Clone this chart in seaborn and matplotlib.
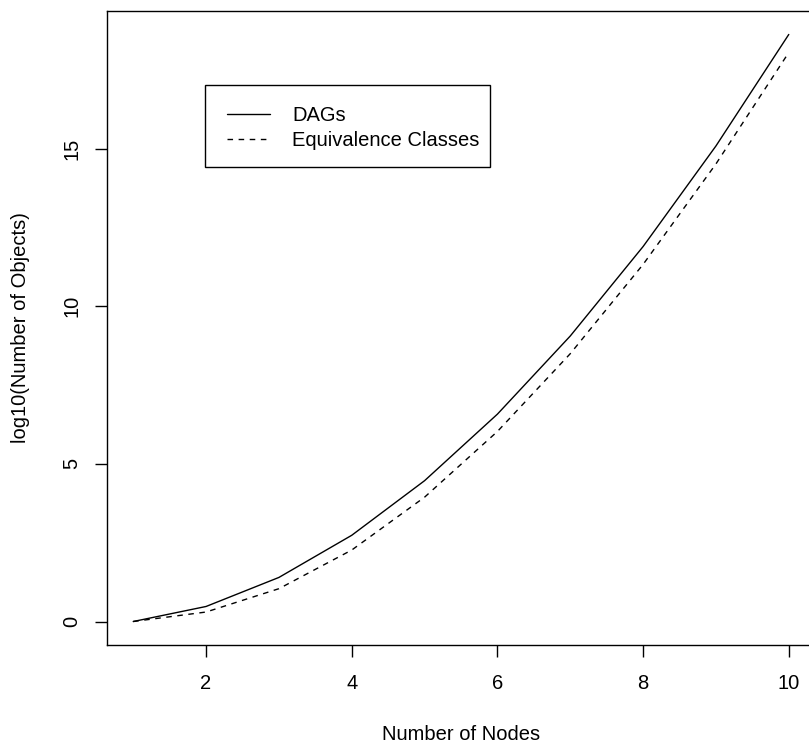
import matplotlib
matplotlib.use("Agg")
import matplotlib.pyplot as plt
import seaborn as sns
import pandas as pd
from matplotlib.lines import Line2D
from matplotlib.patches import Rectangle

nodes = [1, 2, 3, 4, 5, 6, 7, 8, 9, 10]
log_dags = [0.0, 0.477, 1.398, 2.735, 4.467, 6.578, 9.056, 11.894, 15.084, 18.621]
log_equiv = [0.0, 0.301, 1.041, 2.267, 3.944, 6.028, 8.495, 11.327, 14.514, 18.049]
x_ticks = [2, 4, 6, 8, 10]
y_ticks = [0, 5, 10, 15]
series_names = ["DAGs", "Equivalence Classes"]

sns.set_style("white")
plt.rcParams["font.family"] = ["Liberation Sans", "DejaVu Sans"]
plt.rcParams["text.color"] = "black"
plt.rcParams["axes.labelcolor"] = "black"
FS = 14.5

df = pd.DataFrame({
    "nodes": nodes * 2,
    "value": log_dags + log_equiv,
    "series": [series_names[0]] * len(nodes) + [series_names[1]] * len(nodes),
})

fig = plt.figure(figsize=(8.09, 7.42), dpi=100)
ax = fig.add_axes([107 / 809, 97 / 742, 708 / 809, 634 / 742])
sns.lineplot(data=df, x="nodes", y="value", style="series",
             dashes={series_names[0]: "", series_names[1]: (4, 4)},
             color="black", linewidth=1.0, ax=ax, legend=False)

ax.set_xlim(0.64, 10.36)
ax.set_ylim(-0.745, 19.365)
ax.set_xticks(x_ticks)
ax.set_yticks(y_ticks)
ax.set_yticklabels([str(t) for t in y_ticks], rotation=90, va="center")
ax.tick_params(axis="both", which="major", direction="out", length=8.6, width=1,
               color="black", labelsize=FS, labelcolor="black",
               bottom=True, left=True, top=False, right=False)
ax.tick_params(axis="x", pad=12.5)
ax.tick_params(axis="y", pad=10)
for s in ax.spines.values():
    s.set_color("black")
    s.set_linewidth(1)
ax.spines["right"].set_visible(False)
ax.set_xlabel("Number of Nodes", fontsize=FS, labelpad=22.5)
ax.set_ylabel("log10(Number of Objects)", fontsize=FS, labelpad=23.5)

# legend box (R-style)
x0 = (205 - 107) / 708
x1 = (490 - 107) / 708
y0 = (645 - 167) / 634
y1 = (645 - 85) / 634
ax.add_patch(Rectangle((x0, y0), x1 - x0, y1 - y0, transform=ax.transAxes,
                       facecolor="white", edgecolor="black", linewidth=1, zorder=5))
handles = [Line2D([], [], color="black", lw=1),
           Line2D([], [], color="black", lw=1, dashes=[4, 4])]
leg = ax.legend(handles, series_names, loc="upper left",
                bbox_to_anchor=((227 - 107) / 708, (645 - 106) / 634),
                borderaxespad=0, borderpad=0, frameon=False, fontsize=FS,
                handlelength=43 / (FS * 100 / 72), handletextpad=1.1,
                labelspacing=0.3)
leg.set_zorder(6)

fig.savefig("out.png", dpi=100)
